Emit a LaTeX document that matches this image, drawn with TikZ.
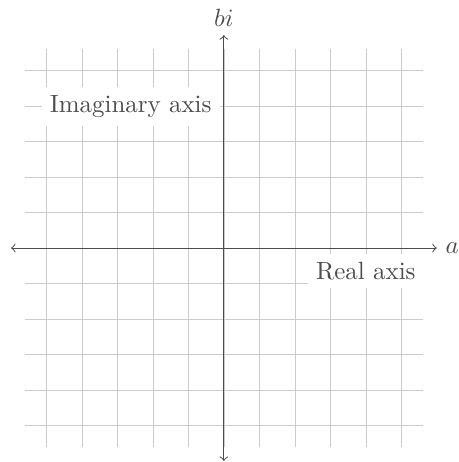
\documentclass[tikz,border=0pt]{standalone}
\usepackage{amsmath, amssymb}
\usepackage{tikz}

\begin{document}
\begin{tikzpicture}[x=0.5cm, y=0.5cm, >=to, text=black!70]
        \useasboundingbox (-6.31,-6.03) rectangle (6.62,6.99);
        % grid
        \draw[black!20, very thin, step=0.5cm] (-5.6,-5.6) grid (5.6,5.6);
        % axes
        \coordinate (O) at (0,0);
        \coordinate (W) at (-6,0);
        \coordinate (E) at (6,0);
        \coordinate (S) at (0,-6);
        \coordinate (N) at (0,6);
        \draw[<->, black!70] (W) -- (E) node[right] (re) {$a$};
        \draw[<->, black!70] (S) -- (N) node[above] (im) {$bi$};
        % labels
        \node[fill=white, anchor=east] (imlabel) at (-0.1,4) {Imaginary axis};
        \node[fill=white, anchor=north east] (relabel) at (5.65,-0.15) {Real axis};
      \end{tikzpicture}
\end{document}
